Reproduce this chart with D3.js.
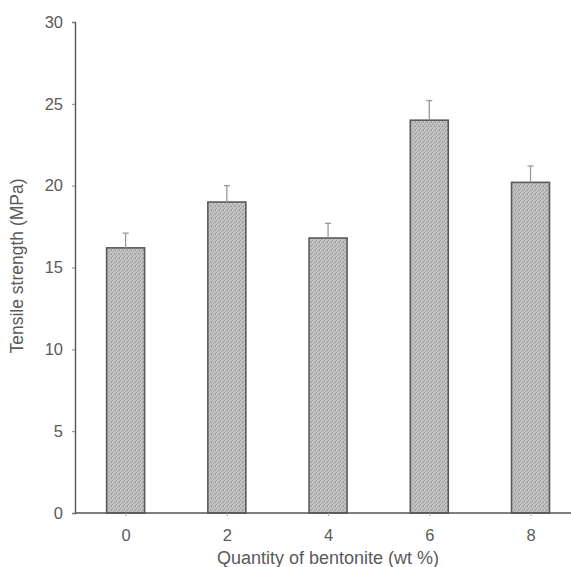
<!DOCTYPE html>
<html>
<head>
<meta charset="utf-8">
<script src="https://cdn.jsdelivr.net/npm/d3@7"></script>
<style>
  body { margin: 0; background: #fff; }
  text { font-family: "Liberation Sans", Arial, sans-serif; fill: #5a5a5a; }
</style>
</head>
<body>
<div id="wrapper"></div>
<script>
// data
const quantities = [0, 2, 4, 6, 8]
const strength = [16.2, 19.0, 16.8, 24.0, 20.2]
const errors = [0.9, 1.0, 0.9, 1.2, 1.0]
const yTicks = [0, 5, 10, 15, 20, 25, 30]

function drawChart() {
    let dimensions = {
        width: 571,
        height: 567,
        margin: { top: 22, right: 0, bottom: 54, left: 75 },
    }
    dimensions.boundedWidth = dimensions.width - dimensions.margin.left - dimensions.margin.right
    dimensions.boundedHeight = dimensions.height - dimensions.margin.top - dimensions.margin.bottom

    const wrapper = d3.select("#wrapper")
        .append("svg")
        .attr("width", dimensions.width)
        .attr("height", dimensions.height)

    // fine stipple texture for the bars
    const defs = wrapper.append("defs")
    const pat = defs.append("pattern")
        .attr("id", "stipple")
        .attr("width", 4).attr("height", 4)
        .attr("patternUnits", "userSpaceOnUse")
    pat.append("rect").attr("width", 4).attr("height", 4).attr("fill", "#c2c2c2")
    const dots = [[0, 0, "#9a9a9a"], [2, 1, "#a6a6a6"], [1, 2, "#a0a0a0"], [3, 3, "#ababab"], [3, 0, "#b2b2b2"], [0, 3, "#b0b0b0"]]
    dots.forEach(p => pat.append("rect")
        .attr("x", p[0]).attr("y", p[1]).attr("width", 1).attr("height", 1).attr("fill", p[2]))

    const bounds = wrapper.append("g")
        .attr("transform", `translate(${dimensions.margin.left}, ${dimensions.margin.top})`)

    const xScale = d3.scaleLinear()
        .domain([-1.0, 8.8])
        .range([0, dimensions.boundedWidth])

    const yScale = d3.scaleLinear()
        .domain([0, 30])
        .range([dimensions.boundedHeight, 0])

    const barWidth = 38

    // bars
    bounds.selectAll("rect.bar")
        .data(quantities)
        .enter().append("rect")
        .attr("class", "bar")
        .attr("x", d => xScale(d) - barWidth / 2)
        .attr("y", (d, i) => yScale(strength[i]))
        .attr("width", barWidth)
        .attr("height", (d, i) => yScale(0) - yScale(strength[i]))
        .attr("fill", "url(#stipple)")
        .attr("stroke", "#5a5a5a")
        .attr("stroke-width", 1.6)

    // error bars
    const err = bounds.selectAll("g.err")
        .data(quantities)
        .enter().append("g")
        .attr("class", "err")
    err.append("line")
        .attr("x1", d => xScale(d)).attr("x2", d => xScale(d))
        .attr("y1", (d, i) => yScale(strength[i]))
        .attr("y2", (d, i) => yScale(strength[i] + errors[i]))
        .attr("stroke", "#999").attr("stroke-width", 1.3)
    err.append("line")
        .attr("x1", d => xScale(d) - 3).attr("x2", d => xScale(d) + 3)
        .attr("y1", (d, i) => yScale(strength[i] + errors[i]))
        .attr("y2", (d, i) => yScale(strength[i] + errors[i]))
        .attr("stroke", "#999").attr("stroke-width", 1.3)

    // axes
    const yAxis = d3.axisLeft(yScale).tickValues(yTicks).tickSize(3).tickPadding(9)
    const yG = bounds.append("g").call(yAxis)
    yG.select(".domain").attr("stroke", "#555").attr("stroke-width", 1.4)
    yG.selectAll(".tick line").attr("stroke", "#888")
    yG.selectAll(".tick text").style("font-size", "16.5px").attr("fill", "#5a5a5a")

    const xAxis = d3.axisBottom(xScale).tickValues(quantities).tickSize(3).tickPadding(13)
    const xG = bounds.append("g")
        .attr("transform", `translate(0, ${dimensions.boundedHeight})`)
        .call(xAxis)
    xG.select(".domain").attr("stroke", "#555").attr("stroke-width", 1.4)
        .attr("d", `M0,0H${dimensions.boundedWidth}`)
    xG.selectAll(".tick line").attr("stroke", "#aaa")
    xG.selectAll(".tick text").style("font-size", "16.5px").attr("fill", "#5a5a5a")

    // labels
    wrapper.append("text")
        .attr("x", 328)
        .attr("y", 564)
        .attr("text-anchor", "middle")
        .style("font-size", "18px")
        .text("Quantity of bentonite (wt %)")

    wrapper.append("text")
        .attr("transform", "translate(23, 266) rotate(-90)")
        .attr("text-anchor", "middle")
        .style("font-size", "17.5px")
        .text("Tensile strength (MPa)")
}

drawChart()
</script>
</body>
</html>
